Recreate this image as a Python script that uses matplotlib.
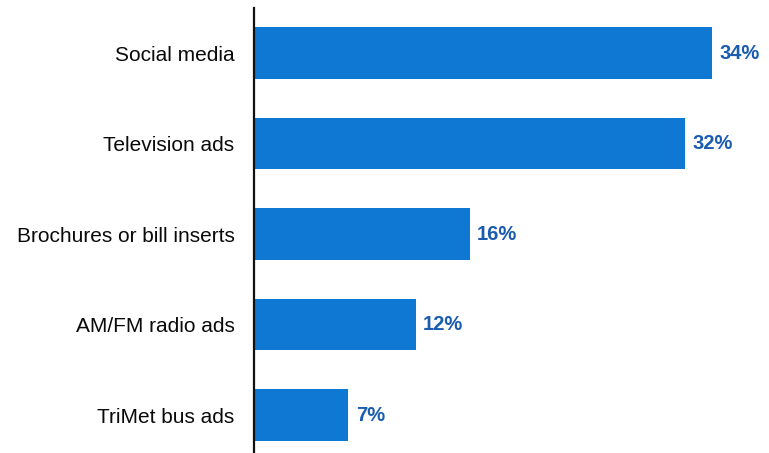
import matplotlib.pyplot as plt

plt.rcParams.update({'font.family': ['Liberation Sans', 'DejaVu Sans']})

categories = ["Social media", "Television ads", "Brochures or bill inserts",
              "AM/FM radio ads", "TriMet bus ads"]
values = [34, 32, 16, 12, 7]

bar_color = "#0f78d2"
label_color = "#1a5cb0"

fig = plt.figure(figsize=(7.69, 4.53), dpi=100)
ax = fig.add_axes([254 / 769, 0, 1 - 254 / 769, 1 - 8 / 453])

ypos = list(range(len(categories) - 1, -1, -1))
ax.barh(ypos, values, height=0.57, color=bar_color)

for y, v in zip(ypos, values):
    ax.text(v + 0.55, y, f"{v}%", va="center", ha="left",
            fontsize=14.5, fontweight="bold", color=label_color)

ax.set_xlim(0, 38.2)
ax.set_ylim(-0.42, 4.5)
ax.set_yticks(ypos)
ax.set_yticklabels(categories, fontsize=15, color="#0a0a0a")
ax.tick_params(axis="y", length=0, pad=14)
ax.set_xticks([])

for side in ["top", "right", "bottom"]:
    ax.spines[side].set_visible(False)
ax.spines["left"].set_linewidth(1.6)
ax.spines["left"].set_color("#111111")

fig.savefig("out.png", dpi=100)
